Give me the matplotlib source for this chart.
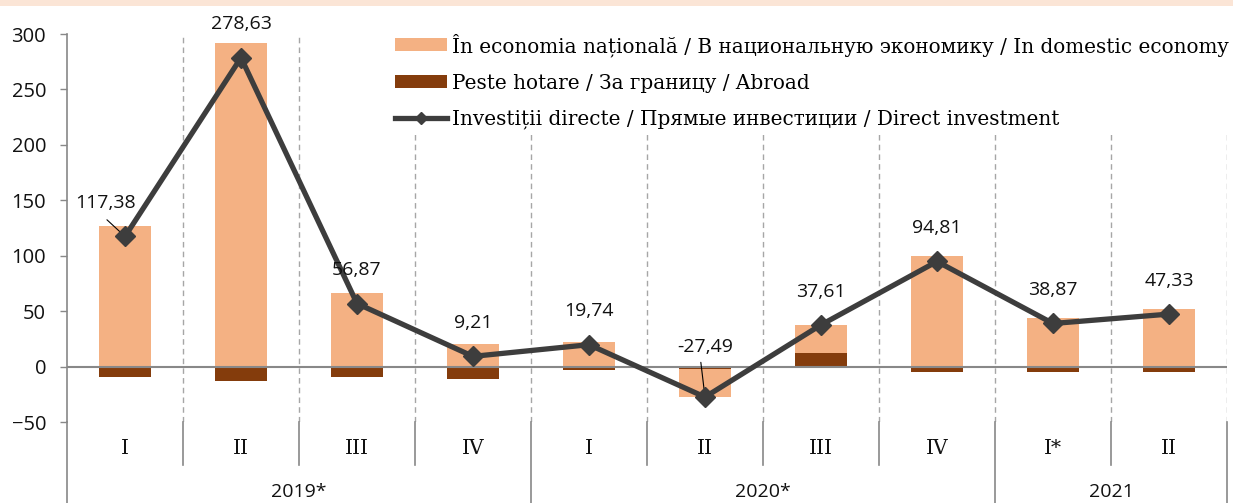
import matplotlib
matplotlib.use("Agg")
import matplotlib.pyplot as plt
from matplotlib.patches import Patch, Rectangle
from matplotlib.lines import Line2D
import matplotlib.transforms as mtransforms
import numpy as np

# ---------------- data ----------------
quarters = ["I", "II", "III", "IV", "I", "II", "III", "IV", "I*", "II"]
years = ["2019*", "2020*", "2021"]
year_spans = [(0, 3), (4, 7), (8, 9)]          # first / last quarter index of each year
domestic = [127.0, 291.8, 66.2, 20.8, 22.5, -25.5, 25.3, 99.6, 43.9, 52.3]
abroad = [-9.6, -13.2, -9.3, -11.6, -2.8, -2.0, 12.3, -4.8, -5.0, -5.0]
direct = [117.38, 278.63, 56.87, 9.21, 19.74, -27.49, 37.61, 94.81, 38.87, 47.33]
direct_labels = ["117,38", "278,63", "56,87", "9,21", "19,74", "-27,49",
                 "37,61", "94,81", "38,87", "47,33"]
yticks = [-50, 0, 50, 100, 150, 200, 250, 300]

leg_labels = ["În economia națională / В национальную экономику / In domestic economy",
              "Peste hotare / За границу / Abroad",
              "Investiții directe / Прямые инвестиции / Direct investment"]

# ---------------- style ----------------
C_DOM = "#F4B183"
C_ABR = "#843C0C"
C_LINE = "#3D3D3D"
C_AX = "#888888"
C_GRID = "#A6A6A6"
SERIF = ["DejaVu Serif"]
SANS = ["Open Sans", "DejaVu Sans"]

W, H = 1233, 503
fig = plt.figure(figsize=(W / 100, H / 100), dpi=100)
fig.patches.append(Rectangle((0, 1 - 6 / H), 1, 6 / H, transform=fig.transFigure,
                             facecolor="#FBE5D6", edgecolor="none", zorder=0))

L, R, B, T = 67, 1227, 422, 34
ax = fig.add_axes([L / W, 1 - B / H, (R - L) / W, (B - T) / H])

x = np.arange(len(quarters))
dom = np.array(domestic)
abr = np.array(abroad)
dom_bottom = np.where(np.sign(dom) == np.sign(abr), abr, 0.0)

bw = 0.44
ax.bar(x, abr, width=bw, color=C_ABR, zorder=2)
ax.bar(x, dom, width=bw, bottom=dom_bottom, color=C_DOM, zorder=2)
ax.axhline(0, color=C_AX, lw=1.5, zorder=2.5)
ax.plot(x, direct, color=C_LINE, lw=3.8, marker="D", markersize=10, zorder=4)

ax.set_xlim(-0.5, len(quarters) - 0.5)
ax.set_ylim(-50, 300)

# dashed separators between quarters
bounds = np.arange(0.5, len(quarters) + 0.5, 1.0)
ax.vlines(bounds, -50, 300, colors=C_GRID, linestyles=(0, (4, 3)), lw=1.0, zorder=1)

# solid separators in the category area
tr = mtransforms.blended_transform_factory(ax.transData, ax.transAxes)
axes_h = B - T
q_low = -(465 - B) / axes_h
y_low = -(H - B) / axes_h
year_bounds = [s[0] - 0.5 for s in year_spans] + [year_spans[-1][1] + 0.5]
for b in bounds:
    low = y_low if b in year_bounds else q_low
    ax.add_line(Line2D([b, b], [0, low], transform=tr, color=C_AX, lw=1.2, clip_on=False))

# category labels
for i, q in enumerate(quarters):
    ax.text(i, -(448 - B) / axes_h, q, transform=tr, ha="center", va="center",
            fontsize=14.5, family=SERIF, color="#111111")
for (a, b), yl in zip(year_spans, years):
    ax.text((a + b) / 2, -(492 - B) / axes_h, yl, transform=tr, ha="center", va="center",
            fontsize=14, family=SANS, color="#111111")

# spines & ticks
for s in ["top", "right", "bottom"]:
    ax.spines[s].set_visible(False)
ax.spines["left"].set_color(C_AX)
ax.spines["left"].set_linewidth(1.2)
ax.spines["left"].set_bounds(-50, 300)
ax.add_line(Line2D([-0.5, -0.5], [0, y_low], transform=tr, color=C_AX, lw=1.2, clip_on=False))
ax.set_yticks(yticks)
ax.set_xticks([])
ax.tick_params(axis="y", length=5, width=1.0, color=C_AX, pad=10, labelsize=14.5)
for lab in ax.get_yticklabels():
    lab.set_family(SANS)
    lab.set_color("#111111")

# data labels
offsets = [(-14, 24), (0, 24), (0, 24), (0, 24), (0, 24), (0, 36),
           (0, 24), (0, 24), (0, 24), (0, 24)]
for i, (v, t, off) in enumerate(zip(direct, direct_labels, offsets)):
    ax.annotate(t, (i, v), xytext=off, textcoords="offset points", ha="center",
                va="center", fontsize=14, family=SANS, color="#111111", zorder=5,
                annotation_clip=False)
# leader lines
ax.annotate("", (0, direct[0]), xytext=(-13, 12), textcoords="offset points",
            arrowprops=dict(arrowstyle="-", lw=0.8, color="black", shrinkA=0, shrinkB=0))
ax.annotate("", (5, direct[5]), xytext=(-3, 25), textcoords="offset points",
            arrowprops=dict(arrowstyle="-", lw=0.8, color="black", shrinkA=0, shrinkB=0))

# legend
handles = [Patch(facecolor=C_DOM, edgecolor="none"),
           Patch(facecolor=C_ABR, edgecolor="none"),
           Line2D([], [], color=C_LINE, lw=3.8, marker="D", markersize=6)]
leg = ax.legend(handles, leg_labels, loc="upper left",
                bbox_to_anchor=(389 / W, 1 - 27 / H), bbox_transform=fig.transFigure,
                borderaxespad=0, borderpad=0.3, frameon=True, fancybox=False,
                facecolor="white", edgecolor="none", framealpha=1,
                handlelength=2.6, handleheight=0.62, handletextpad=0.25,
                labelspacing=0.85, prop={"family": SERIF, "size": 14.4})
leg.set_zorder(6)

fig.savefig("out.png", dpi=100, facecolor="white")
